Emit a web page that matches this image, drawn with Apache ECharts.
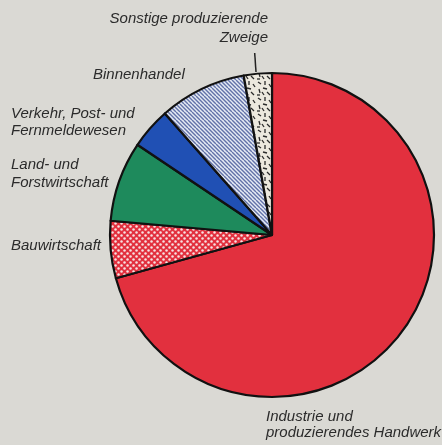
<!DOCTYPE html>
<html><head><meta charset="utf-8">
<script src="https://cdn.jsdelivr.net/npm/echarts@6/dist/echarts.min.js"></script>
<style>html,body{margin:0;padding:0;background:#dad9d4;}#c{width:442px;height:445px;}</style>
</head><body><div id="c"></div>
<script>
const categories = ['Industrie und produzierendes Handwerk','Bauwirtschaft','Land- und Forstwirtschaft','Verkehr, Post- und Fernmeldewesen','Binnenhandel','Sonstige produzierende Zweige'];
const shares = [70.7, 5.7, 8.0, 4.1, 8.7, 2.8];

function mk(w,h,draw){const c=document.createElement('canvas');c.width=w;c.height=h;draw(c.getContext('2d'));return c;}
const dots = mk(6,6,g=>{g.fillStyle='#e2303e';g.fillRect(0,0,6,6);g.fillStyle='#f7e2e2';
  [[1.5,1.5],[4.5,4.5]].forEach(p=>{g.beginPath();g.arc(p[0],p[1],1.25,0,Math.PI*2);g.fill();});});
const stripes = mk(8,8,g=>{g.fillStyle='#e6ebf4';g.fillRect(0,0,8,8);g.strokeStyle='#6272a8';g.lineWidth=1.4;
  for(let k=-8;k<=16;k+=4){g.beginPath();g.moveTo(k,0);g.lineTo(k+8,8);g.stroke();}});
const dashes = mk(16,16,g=>{g.fillStyle='#ece8de';g.fillRect(0,0,16,16);g.strokeStyle='#2a2a2a';g.lineWidth=1.3;
  [[2,2,5,4],[9,1,9,5],[13,4,15,7],[3,9,4,13],[7,8,11,9],[11,12,14,15],[1,15,4,15],[6,12,8,15]].forEach(s=>{g.beginPath();g.moveTo(s[0],s[1]);g.lineTo(s[2],s[3]);g.stroke();});});

const fills = ['#e2303e',{image:dots,repeat:'repeat'},'#1e8a5c','#2050b4',{image:stripes,repeat:'repeat'},{image:dashes,repeat:'repeat'}];

const chart = echarts.init(document.getElementById('c'),null,{renderer:'canvas'});
const txt = (x,y,t,align)=>({type:'text',x:x,y:y,style:{text:t,font:'italic 15px "Liberation Sans", Arial, sans-serif',fill:'#2b2b2b',align:align||'left',verticalAlign:'middle'}});
chart.setOption({
  animation:false,
  backgroundColor:'#dad9d4',
  series:[{type:'pie',center:[272,235],radius:162,startAngle:90,clockwise:true,
    label:{show:false},labelLine:{show:false},emphasis:{disabled:true},silent:true,
    itemStyle:{borderColor:'#111',borderWidth:2.2},
    data:categories.map((n,i)=>({name:n,value:shares[i],itemStyle:{color:fills[i]}}))}],
  graphic:[
    txt(268,19,'Sonstige produzierende','right'),
    txt(268,38,'Zweige','right'),
    {type:'line',shape:{x1:254.7,y1:53,x2:256,y2:72},style:{stroke:'#222',lineWidth:1.5}},
    txt(93,75,'Binnenhandel'),
    txt(11,113.5,'Verkehr, Post- und'),
    txt(11,130.5,'Fernmeldewesen'),
    txt(11,165,'Land- und'),
    txt(11,182.5,'Forstwirtschaft'),
    txt(11,246,'Bauwirtschaft'),
    txt(266,417,'Industrie und'),
    txt(266,433,'produzierendes Handwerk')
  ]
});
</script></body></html>
